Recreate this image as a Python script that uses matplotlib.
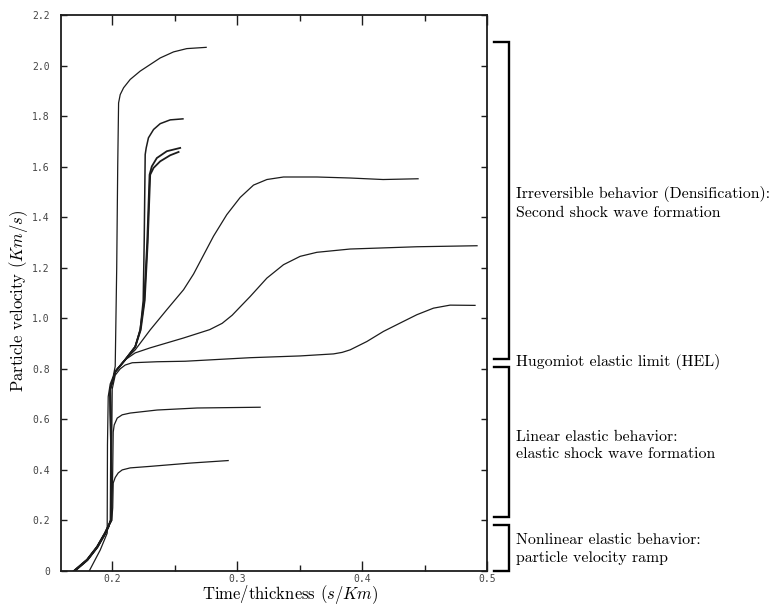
import matplotlib
matplotlib.use('Agg')
import matplotlib.pyplot as plt
from matplotlib import ticker
import matplotlib.transforms as mtransforms

plt.rcParams['mathtext.fontset'] = 'cm'

# initial ramps (nonlinear elastic part)
ramp_x = [0.1696, 0.1800, 0.1880, 0.1944, 0.1968]
ramp_y = [0.0, 0.044, 0.095, 0.150, 0.175]
ramp2_x = [0.1816, 0.1904, 0.1960]
ramp2_y = [0.0, 0.083, 0.150]

# each record after its ramp
a_x = [0.1960, 0.1962, 0.1968, 0.1984, 0.2008, 0.2024, 0.2036, 0.2044, 0.2051, 0.2064, 0.2091, 0.2144,
       0.2224, 0.2304, 0.2384, 0.2491, 0.2597, 0.2752]
a_y = [0.20, 0.50, 0.69, 0.74, 0.77, 0.81, 1.20, 1.60, 1.852, 1.885, 1.912, 1.945,
       1.978, 2.004, 2.030, 2.054, 2.067, 2.072]

b_x = [0.1988, 0.1990, 0.1984, 0.2024, 0.2104, 0.2184, 0.2224, 0.2248, 0.2256, 0.2264, 0.2272, 0.2290,
       0.2331, 0.2384, 0.2464, 0.2566]
b_y = [0.20, 0.50, 0.72, 0.788, 0.836, 0.887, 0.954, 1.07, 1.30, 1.648, 1.674, 1.714,
       1.747, 1.770, 1.785, 1.789]

c_x = [0.1988, 0.1990, 0.1984, 0.2024, 0.2104, 0.2184, 0.2224, 0.2256, 0.2280, 0.2299, 0.2317, 0.2357,
       0.2437, 0.2544]
c_y = [0.20, 0.50, 0.72, 0.788, 0.836, 0.887, 0.954, 1.07, 1.30, 1.568, 1.601, 1.634,
       1.661, 1.674]

d_x = [0.1988, 0.1990, 0.1984, 0.2024, 0.2104, 0.2184, 0.2228, 0.2260, 0.2284, 0.2304, 0.2331, 0.2384,
       0.2464, 0.2531]
d_y = [0.20, 0.50, 0.72, 0.788, 0.836, 0.887, 0.954, 1.07, 1.30, 1.568, 1.595, 1.621,
       1.645, 1.658]

i_x = [0.1988, 0.1990, 0.1984, 0.2024, 0.2104, 0.2184, 0.2304, 0.2437, 0.2571, 0.2651, 0.2731, 0.2811,
       0.2917, 0.3024, 0.3131, 0.3238, 0.3371, 0.3638, 0.3904, 0.4168, 0.4448]
i_y = [0.20, 0.50, 0.72, 0.79, 0.836, 0.875, 0.954, 1.034, 1.113, 1.175, 1.250, 1.325,
       1.410, 1.478, 1.527, 1.549, 1.559, 1.559, 1.555, 1.549, 1.552]

h_x = [0.1988, 0.1990, 0.1984, 0.2024, 0.2104, 0.2184, 0.2304, 0.2571, 0.2780, 0.2880, 0.2960, 0.3024,
       0.3104, 0.3238, 0.3371, 0.3504, 0.3638, 0.3904, 0.4440, 0.4920]
h_y = [0.20, 0.50, 0.72, 0.79, 0.836, 0.863, 0.883, 0.922, 0.955, 0.980, 1.012, 1.045,
       1.086, 1.159, 1.212, 1.245, 1.261, 1.274, 1.283, 1.287]

g_x = [0.1992, 0.1996, 0.2000, 0.2024, 0.2064, 0.2104, 0.2160, 0.2360, 0.2584, 0.3104, 0.3504, 0.3771,
       0.3840, 0.3904, 0.4038, 0.4171, 0.4304, 0.4438, 0.4571, 0.4704, 0.4904]
g_y = [0.20, 0.50, 0.72, 0.775, 0.800, 0.815, 0.824, 0.828, 0.830, 0.844, 0.851, 0.859,
       0.865, 0.875, 0.908, 0.948, 0.981, 1.014, 1.040, 1.052, 1.051]

f_x = [0.1996, 0.2004, 0.2008, 0.2016, 0.2040, 0.2080, 0.2144, 0.2360, 0.2680, 0.3184]
f_y = [0.20, 0.40, 0.55, 0.578, 0.605, 0.618, 0.625, 0.637, 0.645, 0.648]

e_x = [0.1996, 0.2004, 0.2008, 0.2024, 0.2048, 0.2080, 0.2144, 0.2304, 0.2624, 0.2928]
e_y = [0.20, 0.25, 0.348, 0.370, 0.388, 0.400, 0.408, 0.414, 0.427, 0.437]

# (x, y, line width, starts on thin ramp)
curves = [(a_x, a_y, 0.9, True), (b_x, b_y, 1.1, False), (c_x, c_y, 1.3, False), (d_x, d_y, 1.3, False),
          (i_x, i_y, 0.9, False), (h_x, h_y, 0.9, False), (g_x, g_y, 0.9, False),
          (f_x, f_y, 0.9, False), (e_x, e_y, 0.9, False)]

# regime brackets on the right
bracket_top = [2.095, 0.808, 0.182]
bracket_bottom = [0.840, 0.214, 0.0]
notes = ['Irreversible behavior (Densification):\nSecond shock wave formation',
         'Hugomiot elastic limit (HEL)',
         'Linear elastic behavior:\nelastic shock wave formation',
         'Nonlinear elastic behavior:\nparticle velocity ramp']
note_y = [1.457, 0.828, 0.495, 0.087]

y_ticks = [0, 0.2, 0.4, 0.6, 0.8, 1.0, 1.2, 1.4, 1.6, 1.8, 2.0, 2.2]
y_ticklabels = ['0', '0.2', '0.4', '0.6', '0.8', '1.0', '1.2', '1.4', '1.6', '1.8', '2.0', '2.2']
x_ticks = [0.2, 0.3, 0.4, 0.5]
x_ticklabels = ['0.2', '0.3', '0.4', '0.5']
x_minor = [0.25, 0.35, 0.45]

ink = '#1c1c1c'
fig = plt.figure(figsize=(7.71, 6.07), dpi=100)
ax = fig.add_axes([0.0791, 0.0593, 0.5526, 0.916])

ax.plot(ramp_x, ramp_y, color=ink, lw=1.8)
for cx, cy, lw, thin in curves:
    if thin:
        ax.plot(ramp2_x + cx, ramp2_y + cy, color=ink, lw=lw)
    else:
        ax.plot(ramp_x + cx, ramp_y + cy, color=ink, lw=lw)

ax.set_xlim(0.159, 0.5)
ax.set_ylim(0, 2.2)
ax.set_yticks(y_ticks)
ax.set_yticklabels(y_ticklabels)
ax.set_xticks(x_ticks)
ax.set_xticklabels(x_ticklabels)
ax.xaxis.set_minor_locator(ticker.FixedLocator(x_minor))
ax.tick_params(which='both', direction='in', top=True, right=True, colors=ink,
               labelsize=7, labelcolor='#444444', width=1.0)
ax.tick_params(axis='x', which='major', length=7, pad=2)
ax.tick_params(axis='x', which='minor', length=4)
ax.tick_params(axis='y', which='major', length=4, pad=8)
for lab in ax.get_xticklabels() + ax.get_yticklabels():
    lab.set_family('DejaVu Sans Mono')
for sp in ax.spines.values():
    sp.set_linewidth(1.3)
    sp.set_color(ink)

fig.text(19 / 771, 1 - 301 / 607, r'Particle velocity $(Km/s)$', rotation=90,
         ha='center', va='center', fontsize=12, family='cmr10')
fig.text(290 / 771, 1 - 595 / 607, r'Time/thickness $(s/Km)$',
         ha='center', va='center', fontsize=12, family='cmr10')

trans = mtransforms.blended_transform_factory(ax.transAxes, ax.transData)
for top, bot in zip(bracket_top, bracket_bottom):
    ax.plot([1.0164, 1.0516, 1.0516, 1.0164], [top, top, bot, bot], color='black',
            lw=1.7, transform=trans, clip_on=False, solid_joinstyle='miter')
for txt, yv in zip(notes, note_y):
    ax.text(1.068, yv, txt, transform=trans, ha='left', va='center',
            fontsize=11.4, family='cmr10', linespacing=1.35)

fig.savefig('out.png', dpi=100)
